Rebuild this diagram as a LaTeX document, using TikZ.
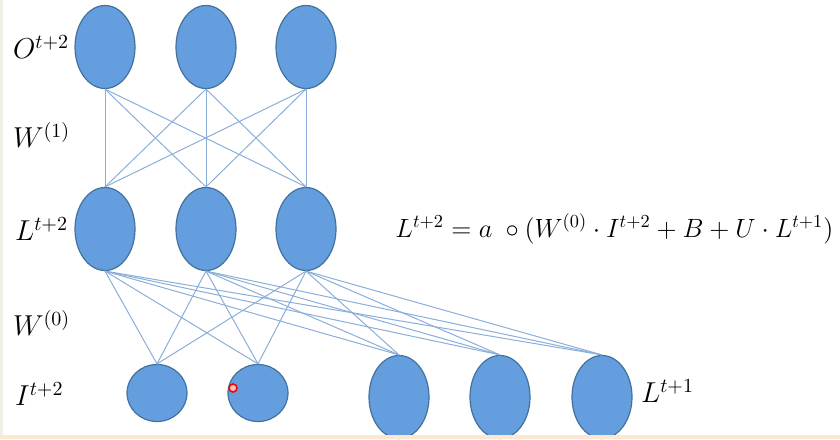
\documentclass[tikz,border=0pt]{standalone}
\usepackage{tikz}
\usetikzlibrary{shapes.geometric}
\definecolor{nodo}{HTML}{659EDF}
\definecolor{borde}{HTML}{41719C}
\definecolor{enlace}{HTML}{8AAEDA}
\definecolor{franja}{HTML}{FBE8D2}
\definecolor{lateral}{HTML}{EEF1E8}

\begin{document}
\begin{tikzpicture}[x=0.5pt, y=-0.5pt, font=\fontsize{14.5}{17}\selectfont,
  neurona/.style={ellipse, draw=borde, fill=nodo, line width=0.6pt, inner sep=0pt,
                  minimum width=30pt, minimum height=41.5pt},
  arista/.style={draw=enlace, line width=0.5pt}]
  \useasboundingbox (0,0) rectangle (840,439);
  % capas
  \foreach \x/\n in {105/1, 206/2, 306/3}{
    \node[neurona] (o\n) at (\x,47) {};
    \node[neurona] (l\n) at (\x,229) {};
  }
  \node[neurona, minimum height=28.5pt] (i1) at (157,393) {};
  \node[neurona, minimum height=28.5pt] (i2) at (258,393) {};
  \foreach \x/\n in {399/1, 500/2, 602/3}
    \node[neurona] (p\n) at (\x,397) {};
  % conexiones
  \foreach \a in {1,2,3}{
    \foreach \b in {1,2,3}
      \draw[arista] (o\a.south) -- (l\b.north);
    \foreach \b in {i1,i2,p1,p2,p3}
      \draw[arista] (l\a.south) -- (\b.north);
  }
  % etiquetas
  \node[anchor=west] (eo) at (6,47) {$O^{t+2}$};
  \node[anchor=west] (ew1) at (6,135) {$W^{(1)}$};
  \node[anchor=west] (el) at (8,229) {$L^{t+2}$};
  \node[anchor=west] (ew0) at (6,323) {$W^{(0)}$};
  \node[anchor=west] (ei) at (8,394) {$I^{t+2}$};
  \node[anchor=west] (ep) at (634,391) {$L^{t+1}$};
  \node[anchor=west, inner sep=0pt] (ecuacion) at (395,229)
    {\resizebox{219pt}{!}{$L^{t+2} = a\;\circ\bigl(W^{(0)}\cdot I^{t+2} + B + U\cdot L^{t+1}\bigr)$}};
  % puntero
  \draw[red, line width=0.8pt, fill=red!25] (233,388) circle (2pt);
  % bordes
  \fill[franja] (0,435) rectangle (840,439);
  \fill[lateral] (0,0) rectangle (3,435);
\end{tikzpicture}
\end{document}
